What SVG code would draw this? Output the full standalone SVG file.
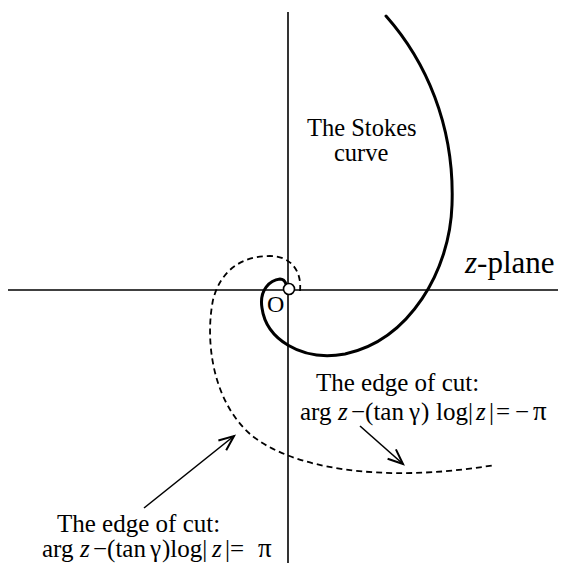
<svg xmlns="http://www.w3.org/2000/svg" width="566" height="563" viewBox="0 0 566 563">
<style>
.t{font-family:"Liberation Serif","Times New Roman",serif;font-size:25px;fill:#000}
.i{font-style:italic}
.ax{stroke:#000;stroke-width:1.6;fill:none}
.solid{stroke:#000;stroke-width:3;fill:none;stroke-linecap:round}
.dash{stroke:#000;stroke-width:1.8;fill:none;stroke-dasharray:6 4}
.arr{stroke:#000;stroke-width:1.6;fill:none}
</style>
<defs>
<marker id="ah" markerUnits="userSpaceOnUse" markerWidth="20" markerHeight="20" refX="0" refY="0" viewBox="-14 -8 16 16" orient="auto">
<path d="M-12,-5 L0,0 L-12,5" fill="none" stroke="#000" stroke-width="1.6"/>
</marker>
</defs>
<g id="axes">
<line class="ax" x1="8" y1="290" x2="558" y2="290"/>
<line class="ax" x1="288" y1="12" x2="288" y2="563"/>
</g>
<g id="connectors">
<path id="stokes-curve" class="solid" d="M386,16 C425,60 455,125 452,205 C450,270 410,340 345,354 C300,362 266,338 262,308 C259,290 270,280 280,279 C283,279 285,281 286,284"/>
<path id="cut-curve" class="dash" d="M300,291 C302,270 290,256 270,256 C240,256 220,272 213,300 C205,340 212,400 250,434 C290,468 380,484 495,465"/>
<line id="arrow-right" class="arr" x1="360" y1="426" x2="403" y2="464" marker-end="url(#ah)"/>
<line id="arrow-left" class="arr" x1="144" y1="508" x2="234" y2="436" marker-end="url(#ah)"/>
</g>
<g id="origin">
<circle cx="289" cy="289" r="5.5" fill="#fff" stroke="#000" stroke-width="1.6"/>
<text class="t" x="267" y="312" style="font-size:24px">O</text>
</g>
<g id="stokes-label">
<text class="t" x="307" y="136" style="font-size:24.5px">The Stokes</text>
<text class="t" x="334" y="161" style="font-size:24.5px">curve</text>
</g>
<g id="zplane-label">
<text class="t" x="465" y="273" style="font-size:31px"><tspan class="i">z</tspan>-plane</text>
</g>
<g id="cut-right">
<text class="t" x="316" y="391">The edge of cut:</text>
<text class="t" y="420"><tspan x="300">arg</tspan><tspan x="338" class="i">z</tspan><tspan x="351">−(tan</tspan><tspan x="409">γ</tspan><tspan x="421">)</tspan><tspan x="436">log|</tspan><tspan x="476" class="i">z</tspan><tspan x="489">|</tspan><tspan x="496">=</tspan><tspan x="515">−</tspan><tspan x="533" style="font-size:27px">π</tspan></text>
</g>
<g id="cut-left">
<text class="t" x="57" y="532">The edge of cut:</text>
<text class="t" y="557"><tspan x="42">arg</tspan><tspan x="80" class="i">z</tspan><tspan x="93">−(tan</tspan><tspan x="150">γ</tspan><tspan x="162">)log|</tspan><tspan x="212" class="i">z</tspan><tspan x="225">|=</tspan><tspan x="258" style="font-size:27px">π</tspan></text>
</g>
</svg>
